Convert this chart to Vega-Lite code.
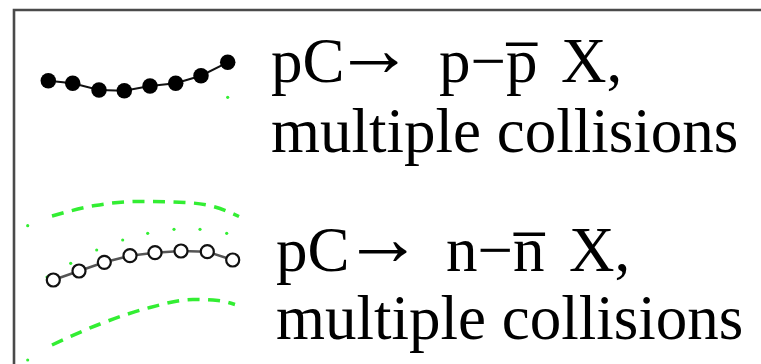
{
  "$schema": "https://vega.github.io/schema/vega-lite/v6.json",
  "width": 761,
  "height": 364,
  "autosize": {"type": "fit", "contains": "padding"},
  "padding": 0,
  "background": "white",
  "config": {"view": {"stroke": null}},
  "datasets": {
    "frame": [
      {"i": 0, "x": 14, "y": 366},
      {"i": 1, "x": 14, "y": 10},
      {"i": 2, "x": 762, "y": 10}
    ],
    "ppbar": [
      {"x": 48.3, "y": 80.7},
      {"x": 72.7, "y": 83.3},
      {"x": 99, "y": 90},
      {"x": 124.3, "y": 90.7},
      {"x": 150, "y": 86},
      {"x": 175.7, "y": 83.3},
      {"x": 201, "y": 75.7},
      {"x": 227.7, "y": 62.3}
    ],
    "nnbar": [
      {"x": 53.3, "y": 280},
      {"x": 79, "y": 271},
      {"x": 104.3, "y": 262.3},
      {"x": 130, "y": 255.7},
      {"x": 155, "y": 252.7},
      {"x": 181, "y": 251},
      {"x": 207.3, "y": 251.7},
      {"x": 232.7, "y": 260}
    ],
    "band": [
      {"edge": "upper", "x": 52, "y": 216},
      {"edge": "upper", "x": 95, "y": 205.5},
      {"edge": "upper", "x": 140, "y": 201.5},
      {"edge": "upper", "x": 185, "y": 202.5},
      {"edge": "upper", "x": 215, "y": 207},
      {"edge": "upper", "x": 239, "y": 216.5},
      {"edge": "lower", "x": 52, "y": 345},
      {"edge": "lower", "x": 100, "y": 324},
      {"edge": "lower", "x": 150, "y": 307.5},
      {"edge": "lower", "x": 193, "y": 299.5},
      {"edge": "lower", "x": 218, "y": 300.5},
      {"edge": "lower", "x": 235, "y": 304.5}
    ],
    "centre": [
      {"x": 27.7, "y": 225.7},
      {"x": 27.7, "y": 360},
      {"x": 47, "y": 277},
      {"x": 70.7, "y": 263.3},
      {"x": 96.7, "y": 250},
      {"x": 122.7, "y": 240},
      {"x": 147.7, "y": 233.3},
      {"x": 174, "y": 229.3},
      {"x": 200, "y": 229.3},
      {"x": 226.7, "y": 233.3},
      {"x": 227.7, "y": 97.3}
    ],
    "labels": [
      {"x": 271, "y": 82, "text": "pC"},
      {"x": 439, "y": 82, "text": "p−p̅"},
      {"x": 561, "y": 82, "text": "X,"},
      {"x": 271, "y": 152, "text": "multiple collisions"},
      {"x": 276, "y": 271, "text": "pC"},
      {"x": 446, "y": 271, "text": "n−n̅"},
      {"x": 569, "y": 271, "text": "X,"},
      {"x": 276, "y": 339, "text": "multiple collisions"}
    ],
    "arrows": [
      {"x": 334, "y": 82, "text": "→"},
      {"x": 343, "y": 271, "text": "→"}
    ]
  },
  "encoding": {
    "x": {"field": "x", "type": "quantitative", "scale": {"domain": [0, 761], "nice": false, "zero": false}, "axis": null},
    "y": {"field": "y", "type": "quantitative", "scale": {"domain": [0, 364], "nice": false, "zero": false, "reverse": true}, "axis": null}
  },
  "layer": [
    {
      "data": {"name": "band"},
      "mark": {"type": "line", "color": "#33ee33", "strokeWidth": 3.5, "strokeDash": [12, 8.5], "interpolate": "monotone", "clip": true},
      "encoding": {"detail": {"field": "edge"}}
    },
    {
      "data": {"name": "centre"},
      "mark": {"type": "point", "filled": true, "color": "#33ee33", "size": 10, "opacity": 1}
    },
    {
      "data": {"name": "ppbar"},
      "mark": {"type": "line", "color": "#111111", "strokeWidth": 2}
    },
    {
      "data": {"name": "ppbar"},
      "mark": {"type": "point", "filled": true, "color": "#000000", "size": 240, "opacity": 1}
    },
    {
      "data": {"name": "nnbar"},
      "mark": {"type": "line", "color": "#555555", "strokeWidth": 2.5}
    },
    {
      "data": {"name": "nnbar"},
      "mark": {"type": "point", "filled": true, "fill": "white", "stroke": "#111111", "strokeWidth": 2.2, "size": 170, "opacity": 1}
    },
    {
      "data": {"name": "frame"},
      "mark": {"type": "line", "color": "#4a4a4a", "strokeWidth": 2.6, "clip": true},
      "encoding": {"order": {"field": "i"}}
    },
    {
      "data": {"name": "labels"},
      "mark": {"type": "text", "font": "Liberation Serif", "fontSize": 63, "align": "left", "baseline": "alphabetic", "color": "#000000"},
      "encoding": {"text": {"field": "text"}}
    },
    {
      "data": {"name": "arrows"},
      "mark": {"type": "text", "font": "Liberation Serif", "fontSize": 80, "align": "left", "baseline": "alphabetic", "dy": -6, "color": "#000000"},
      "encoding": {"text": {"field": "text"}}
    }
  ]
}
